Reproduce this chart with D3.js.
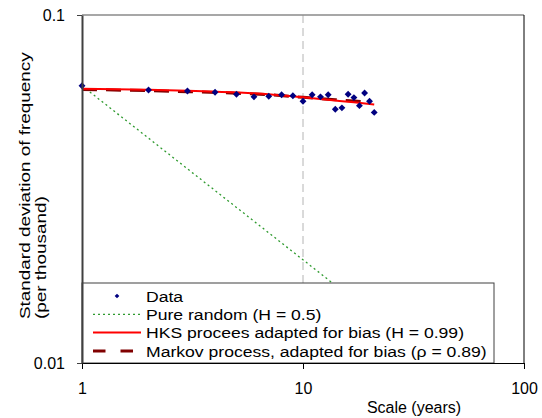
<!DOCTYPE html>
<html>
<head>
<meta charset="utf-8">
<script src="https://cdn.jsdelivr.net/npm/d3@7"></script>
<style>
  html, body { margin: 0; padding: 0; background: #fff; }
  text { font-family: "Liberation Sans", Arial, sans-serif; }
</style>
</head>
<body>
<svg id="chart" width="542" height="418"></svg>
<script>
// ---- Data ----
const scaleYears = [1,2,3,4,5,6,7,8,9,10,11,12,13,14,15,16,17,18,19,20,21];
const dataSD = [0.0626,0.0609,0.0605,0.0600,0.0592,0.0582,0.0584,0.0590,0.0586,0.0565,
                0.0590,0.0582,0.0590,0.0536,0.0541,0.0592,0.0579,0.0549,0.0597,0.0565,0.0525];
const hksX = [1,2,3,5,7,10,14,17,21];
const hksY = [0.0614,0.0610,0.0606,0.0599,0.0592,0.0580,0.0568,0.0561,0.0553];
const markovX = [1,2,3,5,7,10,14,17,20];
const markovY = [0.0611,0.0606,0.0602,0.0596,0.0590,0.0580,0.0571,0.0566,0.0561];
const randomX = [1,21];
const randomY = [0.0626,0.01366];
const xTicks = [1,10,100];
const yTicks = [0.01,0.1];
const legendLabels = ["Data","Pure random (H = 0.5)","HKS procees adapted for bias (H = 0.99)","Markov process, adapted for bias (\u03C1 = 0.89)"];

// ---- Layout ----
const svg = d3.select("#chart");
const L = 82, R = 524, T = 15, B = 363;
const x = d3.scaleLog().domain([1,100]).range([L,R]);
const y = d3.scaleLog().domain([0.01,0.1]).range([B,T]);

// vertical dashed gridline at 10
svg.append("line").attr("x1",x(10)).attr("x2",x(10)).attr("y1",T).attr("y2",B)
  .attr("stroke","#b4b4b4").attr("stroke-width",1).attr("stroke-dasharray","8,5");
// top gridline
svg.append("line").attr("x1",L).attr("x2",R).attr("y1",y(0.1)).attr("y2",y(0.1))
  .attr("stroke","#8a8a8a").attr("stroke-width",1.5);
// right border
svg.append("line").attr("x1",R).attr("x2",R).attr("y1",T).attr("y2",B)
  .attr("stroke","#000").attr("stroke-width",1);

const line = d3.line().x(d=>x(d[0])).y(d=>y(d[1]));
const smooth = d3.line().x(d=>x(d[0])).y(d=>y(d[1])).curve(d3.curveMonotoneX);

// pure random
svg.append("path").datum(d3.zip(randomX,randomY)).attr("d",line)
  .attr("fill","none").attr("stroke","#2e9a2e").attr("stroke-width",1.3).attr("stroke-dasharray","2,3");
// markov
svg.append("path").datum(d3.zip(markovX,markovY)).attr("d",smooth)
  .attr("fill","none").attr("stroke","#800000").attr("stroke-width",3).attr("stroke-dasharray","15,9");
// hks
svg.append("path").datum(d3.zip(hksX,hksY)).attr("d",smooth)
  .attr("fill","none").attr("stroke","#ff0000").attr("stroke-width",2);

// data points (diamonds)
const diamond = d3.symbol().type(d3.symbolDiamond2).size(30);
svg.append("g").selectAll("path").data(d3.zip(scaleYears,dataSD)).join("path")
  .attr("d",diamond).attr("transform",d=>`translate(${x(d[0])},${y(d[1])})`)
  .attr("fill","#000080");

// legend
const lg = svg.append("g");
lg.append("rect").attr("x",L).attr("y",283).attr("width",494-L).attr("height",B-283)
  .attr("fill","#fff").attr("stroke","#404040").attr("stroke-width",1);
const rowY = [296,314.3,332.6,351];
legendLabels.forEach((t,i)=>{
  lg.append("text").attr("transform",`translate(146,${rowY[i]}) scale(1.15,1)`)
    .attr("dy","0.36em").attr("font-size",15.3).attr("fill","#000").text(t);
});
lg.append("path").attr("d",d3.symbol().type(d3.symbolDiamond2).size(14))
  .attr("transform",`translate(117,${rowY[0]})`).attr("fill","#000080");
lg.append("line").attr("x1",93).attr("x2",141).attr("y1",rowY[1]).attr("y2",rowY[1])
  .attr("stroke","#2e9a2e").attr("stroke-width",1.3).attr("stroke-dasharray","2,3");
lg.append("line").attr("x1",93).attr("x2",141).attr("y1",rowY[2]).attr("y2",rowY[2])
  .attr("stroke","#ff0000").attr("stroke-width",2);
lg.append("line").attr("x1",93).attr("x2",134).attr("y1",rowY[3]).attr("y2",rowY[3])
  .attr("stroke","#800000").attr("stroke-width",3).attr("stroke-dasharray","12.5,15");

// axes
const xAxis = svg.append("g").attr("transform",`translate(0,${B})`)
  .call(d3.axisBottom(x).tickValues(xTicks).tickFormat(d=>String(d)).tickSize(6).tickSizeOuter(0).tickPadding(14));
xAxis.select(".domain").attr("stroke","#000");
xAxis.selectAll("text").attr("font-size",16).attr("fill","#000").attr("font-family","Liberation Sans, Arial, sans-serif");

const yAxis = svg.append("g").attr("transform",`translate(${L},0)`)
  .call(d3.axisLeft(y).tickValues(yTicks).tickFormat(d=>String(d)).tickSize(5).tickSizeOuter(0).tickPadding(12));
yAxis.select(".domain").attr("stroke","#404040").attr("stroke-width",2);
yAxis.selectAll(".tick line").attr("stroke","#404040");
yAxis.selectAll("text").attr("font-size",16).attr("fill","#000").attr("font-family","Liberation Sans, Arial, sans-serif");

// axis titles
svg.append("text").attr("x",414).attr("y",413).attr("text-anchor","middle")
  .attr("font-size",16).text("Scale (years)");
const yt = svg.append("text").attr("transform","translate(30,319) rotate(-90) scale(1.22,1)")
  .attr("text-anchor","start").attr("font-size",15.5);
yt.append("tspan").attr("x",0).attr("y",0).text("Standard deviation of frequency");
yt.append("tspan").attr("x",0).attr("y",16.5).text("(per thousand)");
</script>
</body>
</html>
